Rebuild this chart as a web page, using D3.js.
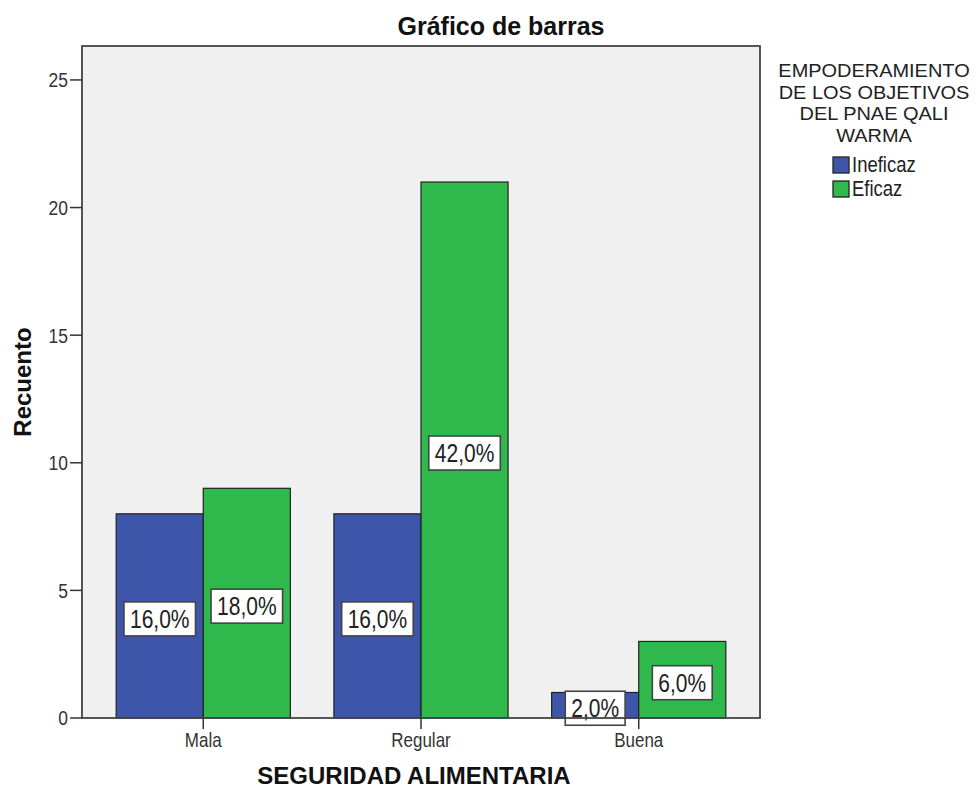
<!DOCTYPE html>
<html>
<head>
<meta charset="utf-8">
<script src="https://cdn.jsdelivr.net/npm/d3@7"></script>
<style>
  body { margin: 0; background: #fff; }
  svg { display: block; font-family: 'Liberation Sans', Arial, sans-serif; }
</style>
</head>
<body>
<div id="chart"></div>
<script>
const categories = ['Mala', 'Regular', 'Buena']
const seriesNames = ['Ineficaz', 'Eficaz']
const ineficaz = [8, 8, 1]
const eficaz = [9, 21, 3]
const ineficazPct = ['16,0%', '16,0%', '2,0%']
const eficazPct = ['18,0%', '42,0%', '6,0%']
const yTicks = [0, 5, 10, 15, 20, 25]
const legendTitle = ['EMPODERAMIENTO', 'DE LOS OBJETIVOS', 'DEL PNAE QALI', 'WARMA']
const colors = ['#3e56a9', '#2fb84b']

const width = 979
const height = 789
const plot = { left: 82, right: 760, top: 46, bottom: 718 }

const svg = d3.select('#chart')
  .append('svg')
  .attr('width', width)
  .attr('height', height)

// plot background
svg.append('rect')
  .attr('x', plot.left)
  .attr('y', plot.top)
  .attr('width', plot.right - plot.left)
  .attr('height', plot.bottom - plot.top)
  .attr('fill', '#f0f0f0')

const x0 = d3.scaleBand()
  .domain(categories)
  .range([plot.left, plot.right])
  .paddingInner(0.2)
  .paddingOuter(0.157)

const x1 = d3.scaleBand()
  .domain(seriesNames)
  .range([0, x0.bandwidth()])

const y = d3.scaleLinear()
  .domain([0, 26.33])
  .range([plot.bottom, plot.top])

const rows = categories.map((c, i) => ({
  cat: c,
  vals: [
    { s: seriesNames[0], v: ineficaz[i], pct: ineficazPct[i], color: colors[0] },
    { s: seriesNames[1], v: eficaz[i], pct: eficazPct[i], color: colors[1] }
  ]
}))

const groups = svg.selectAll('g.cat')
  .data(rows)
  .enter()
  .append('g')
  .attr('class', 'cat')
  .attr('transform', d => 'translate(' + x0(d.cat) + ',0)')

groups.selectAll('rect')
  .data(d => d.vals)
  .enter()
  .append('rect')
  .attr('x', d => x1(d.s))
  .attr('y', d => y(d.v))
  .attr('width', x1.bandwidth())
  .attr('height', d => y(0) - y(d.v))
  .attr('fill', d => d.color)
  .attr('stroke', '#222')
  .attr('stroke-width', 1.2)

// frame
svg.append('rect')
  .attr('x', plot.left)
  .attr('y', plot.top)
  .attr('width', plot.right - plot.left)
  .attr('height', plot.bottom - plot.top)
  .attr('fill', 'none')
  .attr('stroke', '#444')
  .attr('stroke-width', 1.8)

// value labels
const labels = groups.selectAll('g.lbl')
  .data(d => d.vals)
  .enter()
  .append('g')
  .attr('class', 'lbl')
  .attr('transform', d => 'translate(' + (x1(d.s) + x1.bandwidth() / 2) + ',' + (y(d.v / 2) + 3) + ')')

labels.append('text')
  .attr('text-anchor', 'middle')
  .attr('dy', '0.35em')
  .attr('transform', 'scale(1,1.2)')
  .style('font-size', '21px')
  .attr('fill', '#222')
  .text(d => d.pct)
  .each(function () {
    const w = this.getComputedTextLength()
    d3.select(this.parentNode).insert('rect', 'text')
      .attr('x', -w / 2 - 6)
      .attr('y', -17)
      .attr('width', w + 12)
      .attr('height', 34)
      .attr('fill', '#fff')
      .attr('stroke', '#444')
      .attr('stroke-width', 1.6)
  })

// y axis
const yAxis = svg.append('g')
yAxis.selectAll('line')
  .data(yTicks)
  .enter()
  .append('line')
  .attr('x1', plot.left - 12)
  .attr('x2', plot.left)
  .attr('y1', d => y(d))
  .attr('y2', d => y(d))
  .attr('stroke', '#333')
  .attr('stroke-width', 1.5)
yAxis.selectAll('text')
  .data(yTicks)
  .enter()
  .append('text')
  .attr('transform', d => 'translate(' + (plot.left - 14) + ',' + y(d) + ') scale(1,1.2)')
  .attr('text-anchor', 'end')
  .attr('dy', '0.35em')
  .style('font-size', '17.5px')
  .attr('fill', '#333')
  .text(d => d)

// x axis
const xAxis = svg.append('g')
xAxis.selectAll('line')
  .data(categories)
  .enter()
  .append('line')
  .attr('x1', d => x0(d) + x0.bandwidth() / 2)
  .attr('x2', d => x0(d) + x0.bandwidth() / 2)
  .attr('y1', plot.bottom)
  .attr('y2', plot.bottom + 11)
  .attr('stroke', '#333')
  .attr('stroke-width', 1.5)
xAxis.selectAll('text')
  .data(categories)
  .enter()
  .append('text')
  .attr('transform', d => 'translate(' + (x0(d) + x0.bandwidth() / 2) + ',747) scale(1,1.2)')
  .attr('text-anchor', 'middle')
  .style('font-size', '17px')
  .attr('fill', '#333')
  .text(d => d)

// titles
svg.append('text')
  .attr('x', 501)
  .attr('y', 35)
  .attr('text-anchor', 'middle')
  .style('font-size', '25px')
  .style('font-weight', 'bold')
  .attr('fill', '#111')
  .text('Gráfico de barras')

svg.append('text')
  .attr('x', 414)
  .attr('y', 784)
  .attr('text-anchor', 'middle')
  .style('font-size', '24px')
  .style('font-weight', 'bold')
  .attr('fill', '#111')
  .text('SEGURIDAD ALIMENTARIA')

svg.append('text')
  .attr('transform', 'translate(31,382) rotate(-90)')
  .attr('text-anchor', 'middle')
  .style('font-size', '24px')
  .style('font-weight', 'bold')
  .attr('fill', '#111')
  .text('Recuento')

// legend
const legend = svg.append('g')
legend.selectAll('text.title')
  .data(legendTitle)
  .enter()
  .append('text')
  .attr('class', 'title')
  .attr('transform', (d, i) => 'translate(874,' + (77 + i * 21.7) + ') scale(1.05,1)')
  .attr('text-anchor', 'middle')
  .style('font-size', '19px')
  .attr('fill', '#222')
  .text(d => d)

const items = legend.selectAll('g.item')
  .data(seriesNames)
  .enter()
  .append('g')
  .attr('class', 'item')
  .attr('transform', (d, i) => 'translate(833,' + (157 + i * 24) + ')')
items.append('rect')
  .attr('width', 16)
  .attr('height', 16)
  .attr('fill', (d, i) => colors[i])
  .attr('stroke', '#222')
  .attr('stroke-width', 1.3)
items.append('text')
  .attr('transform', 'translate(19,8) scale(1,1.15)')
  .attr('dy', '0.35em')
  .style('font-size', '18.5px')
  .attr('fill', '#222')
  .text(d => d)
</script>
</body>
</html>
